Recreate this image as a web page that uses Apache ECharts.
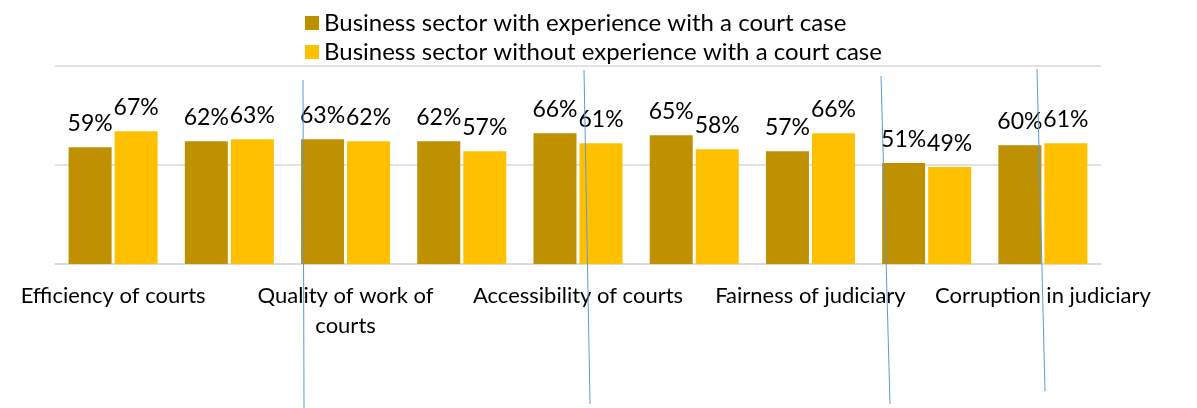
<!DOCTYPE html>
<html>
<head>
<meta charset="utf-8">
<script src="https://cdn.jsdelivr.net/npm/echarts@6/dist/echarts.min.js"></script>
<style>
	html,body{margin:0;padding:0;background:#fff;}
	#court_chart{width:1197px;height:408px;}
</style>
</head>
<body>
<div id="court_chart"></div>
<script>
	// categories (odd ones have no visible label in the original)
	var categories = ['Efficiency of courts', '', 'Quality of work of\ncourts', '', 'Accessibility of courts', '', 'Fairness of judiciary', '', 'Corruption in judiciary'];
	var seriesNames = ['Business sector with experience with a court case', 'Business sector without experience with a court case'];
	var withCase = [59, 62, 63, 62, 66, 65, 57, 51, 60];
	var withoutCase = [67, 63, 62, 57, 61, 58, 66, 49, 61];
	var yTicks = [0, 50, 100];

	var font = 'Lato, "Open Sans", sans-serif';

	function courtChart(){
		var myChart = echarts.init(document.getElementById('court_chart'));

		var labelStyle = {
			show: true,
			position: 'top',
			distance: 12,
			formatter: '{c}%',
			fontFamily: font,
			fontSize: 23,
			color: '#000'
		};

		var option = {
			animation: false,
			legend: {
				orient: 'vertical',
				left: 300,
				top: 6,
				itemWidth: 14,
				itemHeight: 14,
				itemGap: 5,
				icon: 'rect',
				textStyle: {
					fontFamily: font,
					fontSize: 24,
					color: '#000'
				},
				data: seriesNames
			},
			grid: {
				left: 55,
				right: 96,
				top: 66,
				bottom: 144,
				containLabel: false
			},
			xAxis: {
				type: 'category',
				data: categories,
				axisLine: {
					lineStyle: {color: '#D9D9D9', width: 1.5}
				},
				axisTick: {show: false},
				axisLabel: {
					interval: 0,
					margin: 17,
					fontFamily: font,
					fontSize: 22,
					lineHeight: 30,
					color: '#000'
				}
			},
			yAxis: {
				type: 'value',
				min: yTicks[0],
				max: yTicks[yTicks.length - 1],
				interval: yTicks[1] - yTicks[0],
				axisLine: {show: false},
				axisTick: {show: false},
				axisLabel: {show: false},
				splitLine: {
					lineStyle: {color: '#D9D9D9', width: 1.5}
				}
			},
			series: [
				{
					name: seriesNames[0],
					type: 'bar',
					barWidth: 43,
					barGap: '7%',
					itemStyle: {color: '#BF9000'},
					label: labelStyle,
					data: withCase
				},
				{
					name: seriesNames[1],
					type: 'bar',
					barWidth: 43,
					barGap: '7%',
					itemStyle: {color: '#FFC000'},
					label: labelStyle,
					data: withoutCase
				}
			],
			// thin blue strokes that sit on top of the original picture
			graphic: [
				{type: 'line', shape: {x1: 303, y1: 80, x2: 304, y2: 408}, style: {stroke: '#5B9BD5', lineWidth: 1}, z: 100},
				{type: 'line', shape: {x1: 584, y1: 70, x2: 590, y2: 404}, style: {stroke: '#5B9BD5', lineWidth: 1}, z: 100},
				{type: 'line', shape: {x1: 881, y1: 76, x2: 890, y2: 404}, style: {stroke: '#5B9BD5', lineWidth: 1}, z: 100},
				{type: 'line', shape: {x1: 1037, y1: 69, x2: 1045, y2: 391}, style: {stroke: '#5B9BD5', lineWidth: 1}, z: 100}
			]
		};
		myChart.setOption(option);
	}

	courtChart();
</script>
</body>
</html>
